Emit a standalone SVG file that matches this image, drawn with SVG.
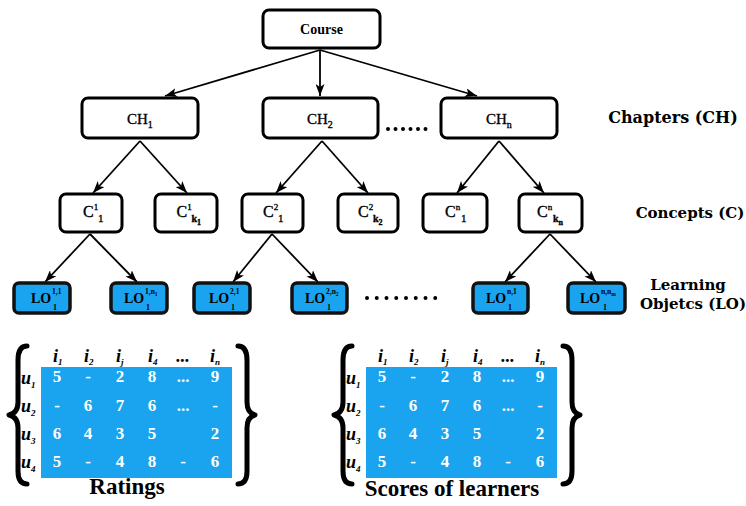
<svg xmlns="http://www.w3.org/2000/svg" width="746" height="506" viewBox="0 0 746 506">
<defs>
<marker id="ah" markerWidth="12" markerHeight="9" refX="12" refY="4.5" orient="auto" markerUnits="userSpaceOnUse"><path d="M0,0 L12,4.5 L0,9 L3,4.5 z" fill="#000"/></marker>
<style>
.box{fill:#fff;stroke:#000;stroke-width:3}
.lo{fill:#1aa4ef;stroke:#111;stroke-width:3.5}
.t{font-family:"Liberation Serif",serif;fill:#000}
.m{stroke:#000;stroke-width:0.35}
.b{font-weight:bold}
.lbl{font-family:"DejaVu Serif",serif;font-weight:bold;fill:#000}
.c line{stroke:#000;stroke-width:1.8;marker-end:url(#ah)}
.dots{stroke:#000;stroke-width:4;stroke-linecap:round}
.num{font-family:"Liberation Serif",serif;font-weight:bold;font-size:17px;fill:#fff;text-anchor:middle}
.hd{font-family:"Liberation Serif",serif;font-weight:bold;font-style:italic;font-size:18px;fill:#000}
.sb{font-size:9px}
.brace{fill:none;stroke:#000;stroke-width:5;stroke-linecap:round;stroke-linejoin:round}
.cap{font-family:"Liberation Serif",serif;font-weight:bold;font-size:23px;fill:#000;text-anchor:middle}
</style>
</defs>
<rect width="746" height="506" fill="#fff"/>

<g id="connectors" class="c">
<line x1="320" y1="50" x2="165" y2="96"/>
<line x1="320" y1="50" x2="320" y2="96"/>
<line x1="320" y1="50" x2="477" y2="96"/>
<line x1="140" y1="141" x2="93" y2="193"/>
<line x1="140" y1="141" x2="187" y2="193"/>
<line x1="322" y1="141" x2="276" y2="193"/>
<line x1="322" y1="141" x2="368" y2="193"/>
<line x1="499" y1="141" x2="457" y2="193"/>
<line x1="499" y1="141" x2="544" y2="193"/>
<line x1="90" y1="234" x2="45" y2="282"/>
<line x1="90" y1="234" x2="137" y2="282"/>
<line x1="272" y1="234" x2="233" y2="282"/>
<line x1="272" y1="234" x2="318" y2="282"/>
<line x1="550" y1="234" x2="505" y2="282"/>
<line x1="550" y1="234" x2="596" y2="282"/>
</g>

<g id="course"><rect class="box" x="263" y="10" width="117" height="38" rx="6"/>
<text class="t b" x="321.5" y="34" font-size="14" text-anchor="middle">Course</text></g>

<g id="ch1"><rect class="box" x="82" y="98" width="116" height="40" rx="6"/>
<text class="t m" x="127" y="124" font-size="15">CH<tspan font-size="10" dy="4">1</tspan></text></g>
<g id="ch2"><rect class="box" x="263" y="98" width="115" height="40" rx="6"/>
<text class="t m" x="307" y="124" font-size="15">CH<tspan font-size="10" dy="4">2</tspan></text></g>
<line class="dots" x1="388" y1="129" x2="433" y2="129" stroke-dasharray="0 7.5"/>
<g id="chn"><rect class="box" x="441" y="98" width="116" height="40" rx="6"/>
<text class="t m" x="486" y="124" font-size="15">CH<tspan font-size="10" dy="4">n</tspan></text></g>

<g id="c11"><rect class="box" x="60" y="194" width="62" height="38" rx="6"/>
<text class="t m" x="83" y="217" font-size="16">C<tspan font-size="9" dy="-7">1</tspan><tspan font-size="11" x="98" y="222">1</tspan></text></g>
<g id="c1k1"><rect class="box" x="155" y="194" width="62" height="38" rx="6"/>
<text class="t m" x="176.5" y="217" font-size="16">C<tspan font-size="9" dy="-7">1</tspan><tspan font-size="10" class="b" x="191.5" y="222">k</tspan><tspan font-size="8" class="b" dy="3">1</tspan></text></g>
<g id="c21"><rect class="box" x="242" y="194" width="61" height="38" rx="6"/>
<text class="t m" x="263" y="217" font-size="16">C<tspan font-size="9" dy="-7">2</tspan><tspan font-size="11" x="278" y="222">1</tspan></text></g>
<g id="c2k2"><rect class="box" x="338" y="194" width="60" height="38" rx="6"/>
<text class="t m" x="358" y="217" font-size="16">C<tspan font-size="9" dy="-7">2</tspan><tspan font-size="10" class="b" x="373" y="222">k</tspan><tspan font-size="8" class="b" dy="3">2</tspan></text></g>
<g id="cn1"><rect class="box" x="423" y="194" width="64" height="38" rx="6"/>
<text class="t m" x="445" y="217" font-size="16">C<tspan font-size="9" dy="-7">n</tspan><tspan font-size="11" x="461" y="222">1</tspan></text></g>
<g id="cnkn"><rect class="box" x="519" y="194" width="63" height="38" rx="6"/>
<text class="t m" x="537" y="217" font-size="16">C<tspan font-size="9" dy="-7">n</tspan><tspan font-size="10" class="b" x="553" y="222">k</tspan><tspan font-size="8" class="b" dy="3">n</tspan></text></g>

<g id="lo11"><rect class="lo" x="14" y="283" width="56" height="30" rx="5"/>
<text class="t b" x="31" y="303" font-size="14">LO</text>
<text class="t b" x="52" y="294" font-size="7.5">1,1</text><text class="t b" x="53" y="310" font-size="8">1</text></g>
<g id="lo1n1"><rect class="lo" x="111" y="283" width="56" height="30" rx="5"/>
<text class="t b" x="124" y="303" font-size="14">LO</text>
<text class="t b" x="145" y="294" font-size="7.5">1,n<tspan font-size="5.5" dy="1.5">1</tspan></text><text class="t b" x="146" y="310" font-size="8">1</text></g>
<g id="lo21"><rect class="lo" x="194" y="283" width="56" height="30" rx="5"/>
<text class="t b" x="209" y="303" font-size="14">LO</text>
<text class="t b" x="230" y="294" font-size="7.5">2,1</text><text class="t b" x="231" y="310" font-size="8">1</text></g>
<g id="lo2n2"><rect class="lo" x="292" y="283" width="55" height="30" rx="5"/>
<text class="t b" x="305" y="303" font-size="14">LO</text>
<text class="t b" x="326" y="294" font-size="7.5">2,n<tspan font-size="5.5" dy="1.5">2</tspan></text><text class="t b" x="327" y="310" font-size="8">1</text></g>
<line class="dots" x1="367" y1="298" x2="445" y2="298" stroke-dasharray="0 9.75"/>
<g id="lon1"><rect class="lo" x="473" y="283" width="55" height="30" rx="5"/>
<text class="t b" x="486" y="303" font-size="14">LO</text>
<text class="t b" x="507" y="294" font-size="7.5">n,1</text><text class="t b" x="508" y="310" font-size="8">1</text></g>
<g id="lonnm"><rect class="lo" x="568" y="283" width="57" height="30" rx="5"/>
<text class="t b" x="580" y="303" font-size="14">LO</text>
<text class="t b" x="601" y="294" font-size="7.5">n,n<tspan font-size="5.5" dy="1.5">m</tspan></text><text class="t b" x="603" y="310" font-size="8">1</text></g>

<g id="labels">
<text class="lbl" x="673" y="123" font-size="16" text-anchor="middle">Chapters (CH)</text>
<text class="lbl" x="690" y="218" font-size="15" text-anchor="middle">Concepts (C)</text>
<text class="lbl" x="688" y="290" font-size="15" text-anchor="middle">Learning</text>
<text class="lbl" x="693" y="309" font-size="15" text-anchor="middle">Objetcs (LO)</text>
</g>

<g id="ratings">
<path class="brace" d="M27 346 Q18 346 18 360 L18 402 Q18 413 9 415 Q18 417 18 428 L18 471 Q18 484 27 484"/>
<path class="brace" d="M238 346 Q247 346 247 360 L247 402 Q247 413 255 415 Q247 417 247 428 L247 471 Q247 484 238 484"/>
<rect x="41" y="367" width="191" height="111" fill="#1aa4ef"/>
<text class="hd" x="53" y="362">i<tspan class="sb" dy="3">1</tspan></text>
<text class="hd" x="84" y="362">i<tspan class="sb" dy="3">2</tspan></text>
<text class="hd" x="116" y="362">i<tspan class="sb" dy="3">j</tspan></text>
<text class="hd" x="148" y="362">i<tspan class="sb" dy="3">4</tspan></text>
<text class="hd" x="183" y="362" text-anchor="middle">...</text>
<text class="hd" x="210" y="362">i<tspan class="sb" dy="3">n</tspan></text>
<text class="hd" x="21" y="384">u<tspan class="sb" dy="4">1</tspan></text>
<text class="hd" x="21" y="412">u<tspan class="sb" dy="4">2</tspan></text>
<text class="hd" x="21" y="440">u<tspan class="sb" dy="4">3</tspan></text>
<text class="hd" x="21" y="468">u<tspan class="sb" dy="4">4</tspan></text>
<g class="num">
<text x="57" y="382">5</text><text x="88" y="382">-</text><text x="120" y="382">2</text><text x="152" y="382">8</text><text x="183" y="382">...</text><text x="215" y="382">9</text>
<text x="57" y="411">-</text><text x="88" y="411">6</text><text x="120" y="411">7</text><text x="152" y="411">6</text><text x="183" y="411">...</text><text x="215" y="411">-</text>
<text x="57" y="439">6</text><text x="88" y="439">4</text><text x="120" y="439">3</text><text x="152" y="439">5</text><text x="215" y="439">2</text>
<text x="57" y="467">5</text><text x="88" y="467">-</text><text x="120" y="467">4</text><text x="152" y="467">8</text><text x="183" y="467">-</text><text x="215" y="467">6</text>
</g>
<text class="cap" x="127" y="494">Ratings</text>
</g>

<g id="scores">
<path class="brace" d="M352 346 Q343 346 343 360 L343 402 Q343 413 334 415 Q343 417 343 428 L343 471 Q343 484 352 484"/>
<path class="brace" d="M563 346 Q572 346 572 360 L572 402 Q572 413 580 415 Q572 417 572 428 L572 471 Q572 484 563 484"/>
<rect x="366" y="367" width="191" height="111" fill="#1aa4ef"/>
<text class="hd" x="378" y="362">i<tspan class="sb" dy="3">1</tspan></text>
<text class="hd" x="409" y="362">i<tspan class="sb" dy="3">2</tspan></text>
<text class="hd" x="441" y="362">i<tspan class="sb" dy="3">j</tspan></text>
<text class="hd" x="473" y="362">i<tspan class="sb" dy="3">4</tspan></text>
<text class="hd" x="508" y="362" text-anchor="middle">...</text>
<text class="hd" x="535" y="362">i<tspan class="sb" dy="3">n</tspan></text>
<text class="hd" x="346" y="384">u<tspan class="sb" dy="4">1</tspan></text>
<text class="hd" x="346" y="412">u<tspan class="sb" dy="4">2</tspan></text>
<text class="hd" x="346" y="440">u<tspan class="sb" dy="4">3</tspan></text>
<text class="hd" x="346" y="468">u<tspan class="sb" dy="4">4</tspan></text>
<g class="num">
<text x="382" y="382">5</text><text x="413" y="382">-</text><text x="445" y="382">2</text><text x="477" y="382">8</text><text x="508" y="382">...</text><text x="540" y="382">9</text>
<text x="382" y="411">-</text><text x="413" y="411">6</text><text x="445" y="411">7</text><text x="477" y="411">6</text><text x="508" y="411">...</text><text x="540" y="411">-</text>
<text x="382" y="439">6</text><text x="413" y="439">4</text><text x="445" y="439">3</text><text x="477" y="439">5</text><text x="540" y="439">2</text>
<text x="382" y="467">5</text><text x="413" y="467">-</text><text x="445" y="467">4</text><text x="477" y="467">8</text><text x="508" y="467">-</text><text x="540" y="467">6</text>
</g>
<text class="cap" x="452" y="496">Scores of learners</text>
</g>
</svg>
